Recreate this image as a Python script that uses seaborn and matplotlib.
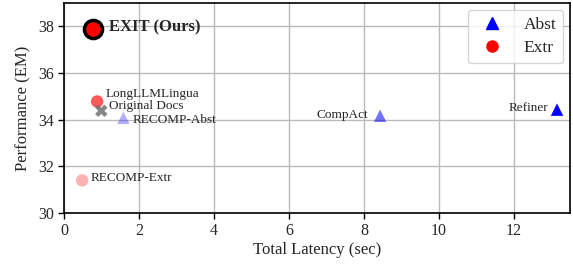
import matplotlib.pyplot as plt
import seaborn as sns
import pandas as pd
from matplotlib.lines import Line2D

methods = ["EXIT (Ours)", "LongLLMLingua", "Original Docs", "RECOMP-Abst",
           "RECOMP-Extr", "CompAct", "Refiner"]
latency = [0.78, 0.88, 0.99, 1.58, 0.48, 8.43, 13.15]
em = [37.87, 34.78, 34.38, 34.08, 31.4, 34.17, 34.43]
kind = ["Extr", "Extr", "Docs", "Abst", "Extr", "Abst", "Abst"]

df = pd.DataFrame({"method": methods, "latency": latency, "em": em, "kind": kind})

sns.set_style("whitegrid")
plt.rcParams["font.family"] = ["Liberation Serif", "DejaVu Serif"]

fig = plt.figure(figsize=(5.73, 2.67), dpi=100)
ax = fig.add_axes([0.112, 0.202, 0.883, 0.787])

markers = {"Abst": "^", "Extr": "o", "Docs": "X"}
colors = {"Abst": "blue", "Extr": "red", "Docs": "dimgray"}
alphas = [1.0, 0.65, 0.8, 0.3, 0.3, 0.55, 1.0]
sizes = [170, 80, 80, 80, 80, 80, 80]

for i, row in df.iterrows():
    sns.scatterplot(
        x=[row["latency"]], y=[row["em"]], ax=ax,
        marker=markers[row["kind"]], color=colors[row["kind"]],
        alpha=alphas[i], s=sizes[i],
        edgecolor="black" if i == 0 else "none",
        linewidth=2.5 if i == 0 else 0, zorder=3,
    )

# text labels (offsets in points)
offsets = [(11, 1.5), (5.8, 5.5), (5.8, 3.8), (6.5, -1.5), (5.8, 1.5), (-8.6, 0.5), (-6.5, 1.5)]
for i, name in enumerate(methods):
    ax.annotate(name, (latency[i], em[i]), xytext=offsets[i], textcoords="offset points",
                va="center", ha="right" if offsets[i][0] < 0 else "left",
                fontsize=12 if i == 0 else 9.5,
                fontweight="bold" if i == 0 else "normal")

ax.set_xlim(0, 13.5)
ax.set_ylim(30, 39)
ax.set_xticks([0, 2, 4, 6, 8, 10, 12])
ax.set_yticks([30, 32, 34, 36, 38])
ax.set_xlabel("Total Latency (sec)", fontsize=12, labelpad=2)
ax.set_ylabel("Performance (EM)", fontsize=12, labelpad=5)
ax.tick_params(labelsize=11.5, length=4, width=1, color="black", left=True, bottom=True)
ax.grid(True, color="#bbbbbb", linewidth=1)
for sp in ax.spines.values():
    sp.set_color("black")
    sp.set_linewidth(1.2)

handles = [
    Line2D([], [], marker="^", color="blue", linestyle="none", markersize=8, label="Abst"),
    Line2D([], [], marker="o", color="red", linestyle="none", markersize=8, label="Extr"),
]
ax.legend(handles=handles, loc="upper right", fontsize=12.5, frameon=True,
          borderpad=0.4, labelspacing=0.4, borderaxespad=0.4)

plt.savefig("out.png", dpi=100)
plt.close()
